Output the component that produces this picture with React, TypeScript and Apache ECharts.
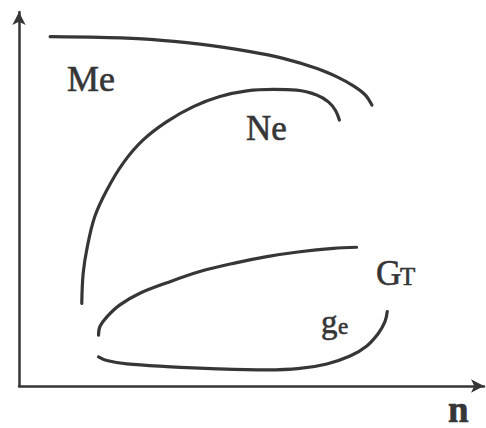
import React, { useEffect, useRef } from "react";
import * as echarts from "echarts";

// Engine speed characteristic: torque, power, fuel rate and specific fuel consumption vs. n
// (relative units 0..100 on both axes)
const meTorque: [number, number][] = [
  [6.7, 93.4], [17.4, 93.2], [28.2, 92.7], [38.9, 91.4], [49.7, 89.4], [56.8, 87.6],
  [64.1, 84.9], [68.5, 82.6], [72.0, 80.2], [74.5, 77.8], [75.9, 75.1],
];
const nePower: [number, number][] = [
  [13.5, 22.1], [13.8, 30.1], [14.7, 37.3], [16.3, 45.3], [18.9, 52.4], [22.4, 59.6],
  [26.7, 65.8], [31.8, 70.7], [37.5, 74.7], [43.2, 77.4], [49.0, 78.9], [54.7, 79.3],
  [59.7, 79.1], [64.0, 77.8], [66.6, 75.9], [68.1, 73.6], [68.9, 71.1],
];
const gtFuelRate: [number, number][] = [
  [17.1, 13.6], [17.4, 15.9], [18.9, 18.5], [21.7, 21.7], [26.0, 24.8], [31.8, 27.6],
  [38.9, 30.6], [46.1, 32.8], [53.3, 34.6], [60.4, 35.9], [67.6, 36.8], [72.6, 37.1],
];
const geSpecific: [number, number][] = [
  [17.1, 7.8], [18.9, 6.8], [23.2, 5.9], [31.8, 5.2], [42.5, 4.6], [53.3, 4.3],
  [60.4, 4.7], [66.2, 5.9], [71.2, 8.0], [74.8, 10.7], [77.3, 14.1], [78.7, 17.2], [79.2, 19.9],
];

const INK = "#363636";
const SERIF = "'Liberation Serif', 'Times New Roman', serif";

const curve = (name: string, data: [number, number][]) => ({
  name,
  type: "line" as const,
  data,
  smooth: 0.35,
  showSymbol: false,
  silent: true,
  lineStyle: { color: INK, width: 3.2, cap: "round" as const },
});

const label = (text: string, x: number, y: number, size: number, weight = "normal") => ({
  type: "text" as const,
  x,
  y,
  silent: true,
  style: {
    text,
    fill: INK,
    stroke: INK,
    lineWidth: 0.6,
    font: `${weight} ${size}px ${SERIF}`,
    textAlign: "left" as const,
    textVerticalAlign: "middle" as const,
  },
});

export default function App() {
  const ref = useRef<HTMLDivElement>(null);

  useEffect(() => {
    if (!ref.current) return;
    const chart = echarts.init(ref.current, null, { renderer: "svg" });
    const axisCommon = {
      type: "value" as const,
      min: 0,
      max: 100,
      axisLine: {
        show: true,
        symbol: ["none", "arrow"],
        symbolSize: [10, 13],
        lineStyle: { color: INK, width: 2.5 },
      },
      axisTick: { show: false },
      axisLabel: { show: false },
      splitLine: { show: false },
    };
    chart.setOption({
      animation: false,
      backgroundColor: "#ffffff",
      grid: { left: 19, right: 2, top: 12, bottom: 42 },
      xAxis: { ...axisCommon },
      yAxis: { ...axisCommon },
      series: [
        curve("Me", meTorque),
        curve("Ne", nePower),
        curve("GT", gtFuelRate),
        curve("ge", geSpecific),
      ],
      graphic: [
        label("Me", 67, 79, 36),
        label("Ne", 246, 128, 35),
        label("G", 376, 273, 35),
        label("T", 400, 276, 25),
        label("g", 321, 322, 33),
        label("e", 338, 326, 23),
        label("n", 448, 409, 37, "bold"),
      ],
    });
    return () => chart.dispose();
  }, []);

  return (
    <div
      ref={ref}
      style={{ position: "fixed", left: 0, top: 0, width: 486, height: 428 }}
    />
  );
}
